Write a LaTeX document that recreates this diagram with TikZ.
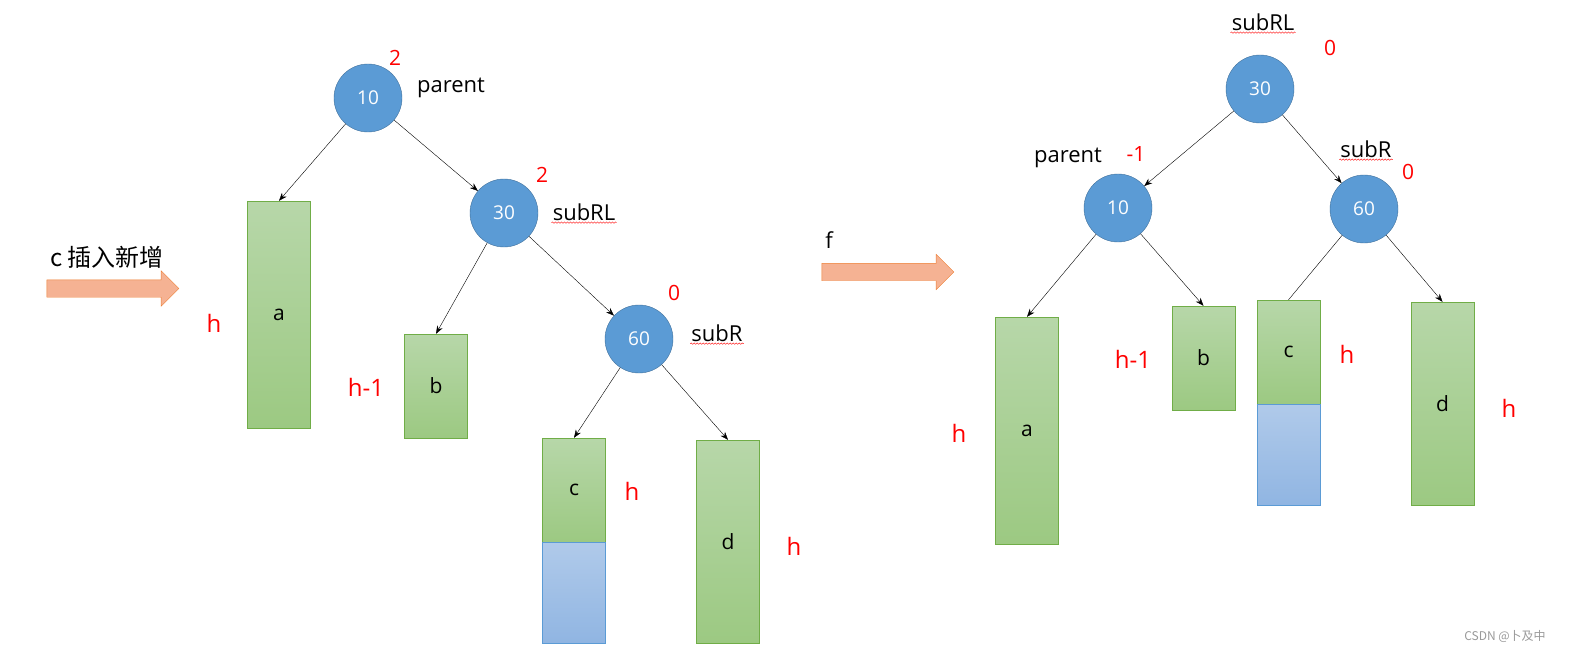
\documentclass[tikz,border=0pt]{standalone}
\usepackage{fontspec}
\setmainfont{Open Sans}
\newfontfamily\cjk{Noto Sans CJK SC}
\usetikzlibrary{arrows.meta,shapes.arrows,decorations.pathmorphing}
\definecolor{nodeblue}{HTML}{5B9BD5}
\definecolor{nodeline}{HTML}{41719C}
\definecolor{boxline}{HTML}{70AD47}
\definecolor{boxtop}{HTML}{B7D7A9}
\definecolor{boxbottom}{HTML}{9CC982}
\definecolor{newtop}{HTML}{B0CAEA}
\definecolor{newbottom}{HTML}{90B5E2}
\definecolor{arrowfill}{HTML}{F5B293}
\definecolor{arrowline}{HTML}{ED7D31}
\begin{document}
\begin{tikzpicture}[x=1pt,y=-1pt,
node_style/.style={circle,draw=nodeline,fill=nodeblue,inner sep=0pt,minimum size=68pt,text=white,font=\fontsize{19}{19}\selectfont},
box_style/.style={rectangle,draw=boxline,top color=boxtop,bottom color=boxbottom,inner sep=0pt,minimum width=63pt,font=\fontsize{21}{21}\selectfont},
new_style/.style={rectangle,draw=nodeblue,top color=newtop,bottom color=newbottom,inner sep=0pt,minimum width=63pt,minimum height=101pt},
name_style/.style={inner sep=1pt,font=\fontsize{22}{22}\selectfont},
bf_style/.style={text=red,inner sep=0pt,font=\fontsize{21}{21}\selectfont},
height_style/.style={text=red,inner sep=0pt,font=\fontsize{24}{24}\selectfont},
block_arrow/.style={single arrow,draw=arrowline,fill=arrowfill,inner xsep=0pt,inner ysep=8.5pt,minimum height=132pt,single arrow head extend=9pt},
squiggle/.style={draw=red,decorate,decoration={snake,amplitude=0.7pt,segment length=3pt}},
edge_style/.style={draw=black,-{Stealth[length=8pt,width=6pt]}},
edge_plain/.style={draw=black}]
\useasboundingbox (0,0) rectangle (1573,655);

% before: left tree
\node[node_style] (l10) at (368,98) {10};
\node[node_style] (l30) at (504,213) {30};
\node[node_style] (l60) at (639,339) {60};
\node[box_style,minimum height=227pt] (la) at (279,314.5) {a};
\node[box_style,minimum height=104pt] (lb) at (436,386) {b};
\node[box_style,minimum height=104pt] (lc) at (574,490) {c};
\node[new_style,anchor=north] (lcnew) at (lc.south) {};
\node[box_style,minimum height=203pt] (ld) at (728,541.5) {d};

\node[bf_style] (lbf10) at (395,58) {2};
\node[bf_style] (lbf30) at (542,175) {2};
\node[bf_style] (lbf60) at (674,293) {0};
\node[name_style] (lparent) at (451,88) {parent};
\node[name_style] (lsubrl) at (584,212) {subRL};
\node[name_style] (lsubr) at (717,333) {subR};
\draw[squiggle] ([yshift=-1pt]lsubrl.south west) -- ([yshift=-1pt]lsubrl.south east);
\draw[squiggle] ([yshift=-1pt]lsubr.south west) -- ([yshift=-1pt]lsubr.south east);
\node[height_style] (lha) at (214,323) {h};
\node[height_style] (lhb) at (366,387) {h-1};
\node[height_style] (lhc) at (632,491) {h};
\node[height_style] (lhd) at (794,546) {h};

\draw[edge_style] (l10) edge (la.north);
\draw[edge_style] (l10) edge (l30);
\draw[edge_style] (l30) edge (lb.north);
\draw[edge_style] (l30) edge (l60);
\draw[edge_style] (l60) edge (lc.north);
\draw[edge_style] (l60) edge (ld.north);

% insert and rotate
\node[name_style,font=\cjk\fontsize{24}{24}\selectfont] (insert) at (107,257) {c 插入新增};
\node[block_arrow] (insarrow) at (108.5,288.5) {};
\node[name_style] (rotate) at (829,240) {f};
\node[block_arrow] (rotarrow) at (883.5,272) {};

% after: right tree
\node[node_style] (r30) at (1260,89) {30};
\node[node_style] (r10) at (1118,208) {10};
\node[node_style] (r60) at (1364,209) {60};
\node[box_style,minimum height=227pt] (ra) at (1027,430.5) {a};
\node[box_style,minimum height=104pt] (rb) at (1203.5,358) {b};
\node[box_style,minimum height=104pt] (rc) at (1288.5,352) {c};
\node[new_style,anchor=north] (rcnew) at (rc.south) {};
\node[box_style,minimum height=203pt] (rd) at (1442.5,403.5) {d};

\node[name_style] (rsubrl) at (1263,22) {subRL};
\draw[squiggle] ([yshift=-1pt]rsubrl.south west) -- ([yshift=-1pt]rsubrl.south east);
\node[bf_style] (rbf30) at (1330,48) {0};
\node[name_style] (rparent) at (1068,158) {parent};
\node[bf_style] (rbf10) at (1136,154) {-1};
\node[name_style] (rsubr) at (1366,149) {subR};
\draw[squiggle] ([yshift=-1pt]rsubr.south west) -- ([yshift=-1pt]rsubr.south east);
\node[bf_style] (rbf60) at (1408,172) {0};
\node[height_style] (rha) at (959,433) {h};
\node[height_style] (rhb) at (1133,359) {h-1};
\node[height_style] (rhc) at (1347,354) {h};
\node[height_style] (rhd) at (1509,408) {h};

\draw[edge_style] (r30) edge (r10);
\draw[edge_style] (r30) edge (r60);
\draw[edge_style] (r10) edge (ra.north);
\draw[edge_style] (r10) edge (rb.north);
\draw[edge_plain] (r60) edge (rc.north);
\draw[edge_style] (r60) edge (rd.north);

\node[inner sep=0pt,text=black!40,font=\cjk\fontsize{12}{12}\selectfont] (mark) at (1505,636) {CSDN @卜及中};
\end{tikzpicture}
\end{document}
